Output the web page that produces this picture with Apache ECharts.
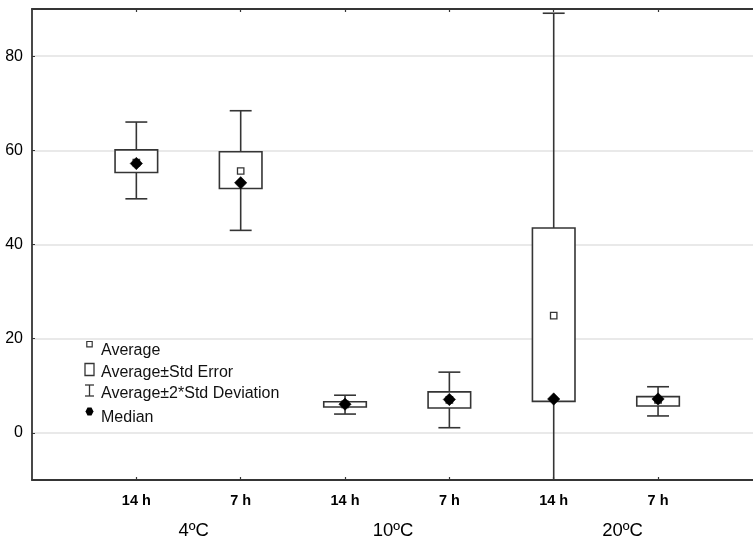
<!DOCTYPE html>
<html>
<head>
<meta charset="utf-8">
<script src="https://cdn.jsdelivr.net/npm/echarts@6/dist/echarts.min.js"></script>
<style>html,body{margin:0;padding:0;background:#fff}#c{width:753px;height:539px}</style>
</head>
<body>
<div id="c"></div>
<script>
// ---- data ----
const categories = ['14 h', '7 h', '14 h', '7 h', '14 h', '7 h'];
const groups = ['4ºC', '10ºC', '20ºC'];
const groupPos = [1.55, 3.46, 5.66];           // x-position (category units) of group captions
const mean   = [57.4, 55.6, 6.05, 7.0, 24.9, 7.0];
const seLow  = [55.3, 51.9, 5.5, 5.3, 6.7, 5.7];
const seHigh = [60.1, 59.7, 6.6, 8.7, 43.5, 7.7];
const sdLow  = [49.7, 43.0, 4.0, 1.1, -39.0, 3.6];
const sdHigh = [66.0, 68.4, 8.0, 12.9, 89.1, 9.8];
const median = [57.2, 53.1, 6.1, 7.1, 7.2, 7.2];
const yTickValues = [0, 20, 40, 60, 80];
const legendItems = ['Average', 'Average±Std Error', 'Average±2*Std Deviation', 'Median'];

const LINE = '#353535';
const chart = echarts.init(document.getElementById('c'), null, {renderer: 'canvas'});

const xPositions = categories.map((c, i) => i + 1);
const data = categories.map((c, i) => [xPositions[i], sdLow[i], seLow[i], mean[i], seHigh[i], sdHigh[i], median[i]]);

function renderItem(params, api) {
  const x = api.value(0);
  const P = k => api.coord([x, api.value(k)]);
  const boxHalf = api.size([0.204, 0])[0];
  const capHalf = api.size([0.105, 0])[0];
  const lo = P(1), bLo = P(2), m = P(3), bHi = P(4), hi = P(5), md = P(6);
  const cx = lo[0];
  const st = {stroke: LINE, lineWidth: 1.6, fill: null};
  const d = 6.2;
  return {
    type: 'group',
    children: [
      {type: 'line', shape: {x1: cx, y1: lo[1], x2: cx, y2: hi[1]}, style: st},
      {type: 'line', shape: {x1: cx - capHalf, y1: lo[1], x2: cx + capHalf, y2: lo[1]}, style: st},
      {type: 'line', shape: {x1: cx - capHalf, y1: hi[1], x2: cx + capHalf, y2: hi[1]}, style: st},
      {type: 'rect', shape: {x: cx - boxHalf, y: bHi[1], width: boxHalf * 2, height: bLo[1] - bHi[1]},
        style: {stroke: LINE, lineWidth: 1.6, fill: '#fff'}},
      {type: 'rect', shape: {x: cx - 3.2, y: m[1] - 3.2, width: 6.4, height: 6.4},
        style: {stroke: LINE, lineWidth: 1.3, fill: '#fff'}},
      {type: 'polygon', shape: {points: [[cx, md[1] - d], [cx + d, md[1]], [cx, md[1] + d], [cx - d, md[1]]]},
        style: {fill: '#000', stroke: '#000', lineWidth: 0.5}}
    ]
  };
}

const xBase = {
  type: 'value', min: 0, max: 6.91, interval: 1, gridIndex: 0,
  splitLine: {show: false},
  axisLine: {show: true, onZero: false, lineStyle: {color: LINE, width: 1.8}},
  axisTick: {show: true, inside: true, length: 3, customValues: xPositions, lineStyle: {color: LINE, width: 1.2}}
};

chart.setOption({
  animation: false,
  backgroundColor: '#fff',
  grid: {left: 32, right: 0, top: 9, bottom: 59, containLabel: false},
  xAxis: [
    Object.assign({}, xBase, {
      position: 'bottom',
      axisLabel: {
        margin: 13, color: '#000', fontSize: 14.5, fontWeight: 'bold', fontFamily: 'Liberation Sans, Arial, sans-serif',
        customValues: xPositions,
        formatter: v => (v >= 1 && v <= categories.length && Number.isInteger(v)) ? categories[v - 1] : ''
      }
    }),
    Object.assign({}, xBase, {position: 'top', axisLabel: {show: false}})
  ],
  yAxis: {
    type: 'value', min: -10, max: 90,
    axisLine: {show: true, onZero: false, lineStyle: {color: LINE, width: 1.8}},
    axisTick: {show: true, inside: true, length: 3, lineStyle: {color: LINE, width: 1}},
    splitLine: {show: true, lineStyle: {color: '#e2e2e2', width: 1.5}},
    axisLabel: {
      margin: 9, color: '#000', fontSize: 16, fontFamily: 'Liberation Sans, Arial, sans-serif',
      showMinLabel: false, showMaxLabel: false,
      formatter: v => yTickValues.indexOf(v) >= 0 ? String(v) : ''
    }
  },
  series: [{
    type: 'custom', renderItem: renderItem, data: data, clip: true,
    encode: {x: 0, y: [1, 2, 3, 4, 5, 6]}, xAxisIndex: 0, yAxisIndex: 0
  }]
});

// group captions + legend (positions derived from axes)
const yCap = chart.convertToPixel({yAxisIndex: 0}, -10) + 51;
const graphics = groups.map((g, i) => ({
  type: 'text',
  x: chart.convertToPixel({xAxisIndex: 0}, groupPos[i]),
  y: yCap,
  style: {text: g, fill: '#000', font: '18.5px "Liberation Sans", Arial, sans-serif', textAlign: 'center', textVerticalAlign: 'middle'}
}));

const lgX = 89.5, lgTextX = 101, lgY = [350.7, 372.7, 394, 417.3];
const lst = {stroke: LINE, lineWidth: 1.3, fill: null};
graphics.push(
  {type: 'rect', shape: {x: lgX - 2.7, y: 341.5, width: 5.4, height: 5.4}, style: {stroke: LINE, lineWidth: 1.2, fill: '#fff'}},
  {type: 'rect', shape: {x: lgX - 4.5, y: 363.5, width: 9, height: 12}, style: {stroke: LINE, lineWidth: 1.3, fill: '#fff'}},
  {type: 'line', shape: {x1: lgX, y1: 385, x2: lgX, y2: 396}, style: lst},
  {type: 'line', shape: {x1: lgX - 4.5, y1: 385, x2: lgX + 4.5, y2: 385}, style: lst},
  {type: 'line', shape: {x1: lgX - 4.5, y1: 396, x2: lgX + 4.5, y2: 396}, style: lst},
  {type: 'polygon', shape: {points: [[lgX - 2, 407.5], [lgX + 2, 407.5], [lgX + 4, 411.5], [lgX + 2, 415.5], [lgX - 2, 415.5], [lgX - 4, 411.5]]}, style: {fill: '#000'}}
);
legendItems.forEach((t, i) => graphics.push({
  type: 'text', x: lgTextX, y: lgY[i],
  style: {text: t, fill: '#111', font: '16px "Liberation Sans", Arial, sans-serif', textAlign: 'left', textVerticalAlign: 'middle'}
}));
chart.setOption({graphic: graphics});
</script>
</body>
</html>
